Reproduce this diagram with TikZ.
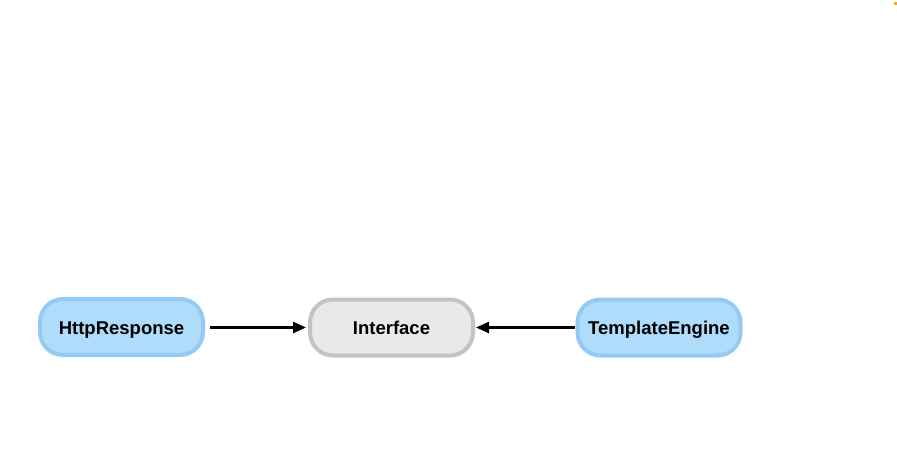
\documentclass[tikz,border=0pt]{standalone}
\usepackage{fontspec}
\setmainfont{Liberation Sans}
\usepackage{tikz}
\usetikzlibrary{arrows.meta,positioning}
\definecolor{boxblue}  {HTML}{AEDCFA}
\definecolor{lineblue} {HTML}{94CAF4}
\definecolor{boxgray}  {HTML}{E8E9EA}
\definecolor{linegray} {HTML}{C3C3C3}
\definecolor{dotorange}{HTML}{F5A623}
\tikzset{
  pill/.style={rounded corners=23pt,minimum width=163pt,minimum height=56pt,
    line width=4pt,font=\fontsize{18.5}{22}\selectfont\bfseries,inner sep=0pt,
    text height=14pt,text depth=0pt},
  bluepill/.style={pill,draw=lineblue,fill=boxblue},
  graypill/.style={pill,draw=linegray,fill=boxgray},
  link/.style={-{Triangle[length=13pt,width=11pt]},line width=2.6pt}
}
\begin{document}
\begin{tikzpicture}[x=1pt,y=-1pt]
    \useasboundingbox (0,0) rectangle (897,464);
    % the three boxes
    \node[bluepill] (response) at (121.5,327) {HttpResponse};
    \node[graypill] (iface)    at (391.5,327.5) {Interface};
    \node[bluepill] (engine)   at (659,327.5) {TemplateEngine};

    % links into the interface
    \draw[link,shorten <=5pt,shorten >=2pt] (response.east |- iface.west) -- (iface.west);
    \draw[link,shorten <=1pt,shorten >=1pt] (engine.west) -- (iface.east);

    % corner mark
    \fill[dotorange] (893.5,1.5) rectangle (896.5,4.5);
  \end{tikzpicture}
\end{document}
